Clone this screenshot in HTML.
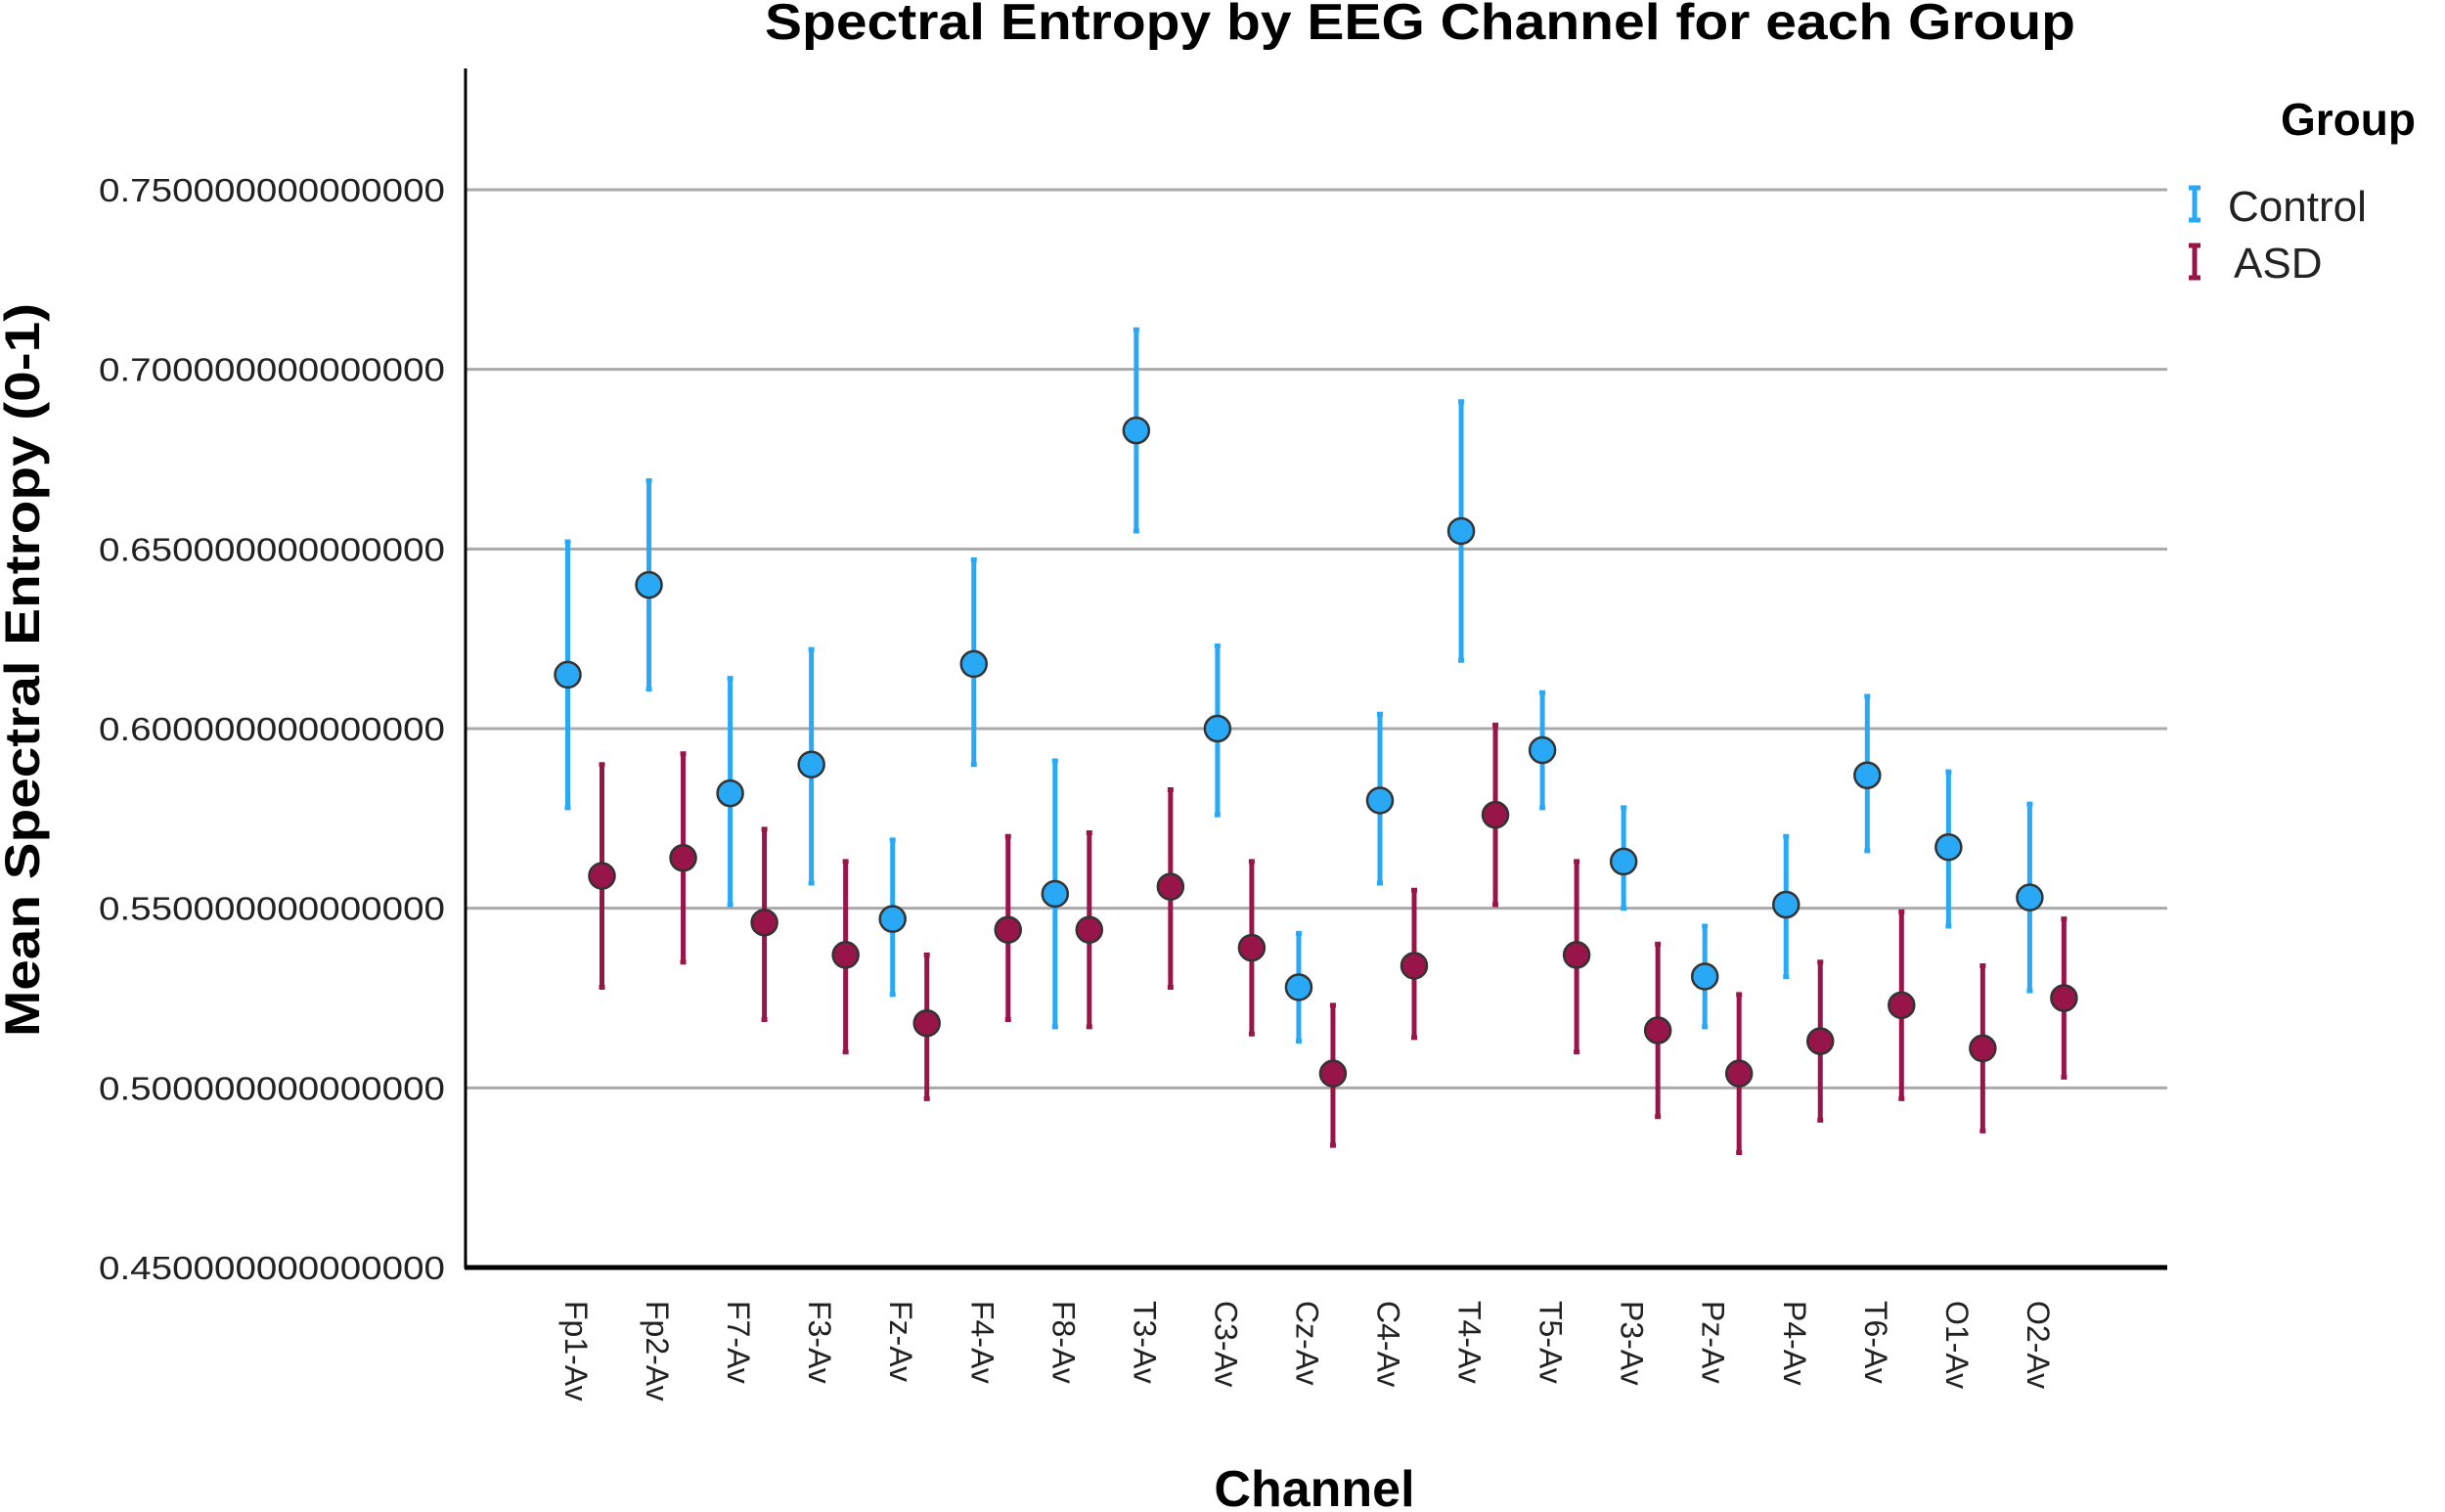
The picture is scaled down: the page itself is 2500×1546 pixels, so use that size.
<!DOCTYPE html>
<html><head><meta charset="utf-8"><style>html,body{margin:0;padding:0;background:#fff}svg{display:block}text{font-family:"Liberation Sans",Arial,sans-serif}</style></head>
<body>
<svg id="chart" width="2500" height="1546" viewBox="0 0 2500 1546" xmlns="http://www.w3.org/2000/svg">
<rect width="2500" height="1546" fill="#fff"/>
<text x="1452" y="40" font-size="52" font-weight="bold" text-anchor="middle" textLength="1340" lengthAdjust="spacingAndGlyphs">Spectral Entropy by EEG Channel for each Group</text>
<g id="grid"></g><g id="yticks"></g><g id="xticks"></g><g id="marks"></g>
<line x1="476" y1="70" x2="476" y2="1297" stroke="#000" stroke-width="3"/>
<line x1="475" y1="1296" x2="2216" y2="1296" stroke="#000" stroke-width="5"/>
<text transform="translate(40,685) rotate(-90)" font-size="50" font-weight="bold" text-anchor="middle" textLength="750" lengthAdjust="spacingAndGlyphs">Mean Spectral Entropy (0-1)</text>
<text x="1344" y="1540" font-size="52" font-weight="bold" text-anchor="middle">Channel</text>
<text x="2332" y="138" font-size="46" font-weight="bold">Group</text>
<g>
<path d="M2238 192h12M2244 192v33M2238 225h12" stroke="#29A9F5" stroke-width="5" fill="none"/>
<text x="2278" y="226" font-size="44" fill="#222">Control</text></g>
<g>
<path d="M2238 251h12M2244 251v33M2238 284h12" stroke="#98154A" stroke-width="5" fill="none"/>
<text x="2284" y="284" font-size="44" fill="#222">ASD</text></g>
</svg>
<script>
const categories=["Fp1-Av","Fp2-Av","F7-Av","F3-Av","Fz-Av","F4-Av","F8-Av","T3-Av","C3-Av","Cz-Av","C4-Av","T4-Av","T5-Av","P3-Av","Pz-Av","P4-Av","T6-Av","O1-Av","O2-Av"];
const controlMean=[.615,.640,.582,.590,.547,.618,.554,.683,.600,.528,.580,.655,.594,.563,.531,.551,.587,.567,.553];
const controlLow=[.578,.611,.551,.557,.526,.590,.517,.655,.576,.513,.557,.619,.578,.550,.517,.531,.566,.545,.527];
const controlHigh=[.652,.669,.614,.622,.569,.647,.591,.711,.623,.543,.604,.691,.610,.578,.545,.570,.609,.588,.579];
const asdMean=[.559,.564,.546,.537,.518,.544,.544,.556,.539,.504,.534,.576,.537,.516,.504,.513,.523,.511,.525];
const asdLow=[.528,.535,.519,.510,.497,.519,.517,.528,.515,.484,.514,.551,.510,.492,.482,.491,.497,.488,.503];
const asdHigh=[.590,.593,.572,.563,.537,.570,.571,.583,.563,.523,.555,.601,.563,.540,.526,.535,.549,.534,.547];
const yTicks=[0.45,0.50,0.55,0.60,0.65,0.70,0.75];
const tickLabels=["0.450000000000000","0.500000000000000","0.550000000000000","0.600000000000000","0.650000000000000","0.700000000000000","0.750000000000000"];
const NS="http://www.w3.org/2000/svg";
const y=v=>1296-(v-0.45)/0.30*1102;
const x=i=>598+i*83.05;
function mk(t,a,p){const e=document.createElementNS(NS,t);for(const k in a)e.setAttribute(k,a[k]);p.appendChild(e);return e;}
const grid=document.getElementById('grid'),yt=document.getElementById('yticks'),xt=document.getElementById('xticks'),marks=document.getElementById('marks');
yTicks.forEach((v,i)=>{
  if(v>0.45){const g=mk('line',{x1:476,x2:2216,y1:y(v),y2:y(v),stroke:'#aaa','stroke-width':3},grid);
  
  }
  const t=mk('text',{x:455,y:y(v)+12,'font-size':33,'text-anchor':'end',textLength:354,lengthAdjust:'spacingAndGlyphs',fill:'#222'},yt);
  t.textContent=tickLabels[i];
  
  
});
categories.forEach((c,i)=>{
  const cx=x(i)-20;
  const t=mk('text',{transform:`translate(${cx},1330) rotate(90)`,'font-size':32,fill:'#222'},xt);
  t.textContent=c;
  
  
});
function series(mean,lo,hi,off,col,name){
  mean.forEach((m,i)=>{
    const cx=x(i)+off;
    const g=mk('g',{},marks);
    
    
    mk('path',{d:`M${cx-3} ${y(hi[i])}h6M${cx} ${y(hi[i])}V${y(lo[i])}M${cx-3} ${y(lo[i])}h6`,stroke:col,'stroke-width':5,fill:'none'},g);
    mk('circle',{cx:cx,cy:y(m),r:13,fill:col,stroke:'#333','stroke-width':2.5},g);
  });
}
series(controlMean,controlLow,controlHigh,-17.5,'#29A9F5','control');
series(asdMean,asdLow,asdHigh,17.5,'#98154A','asd');
</script>
</body></html>
